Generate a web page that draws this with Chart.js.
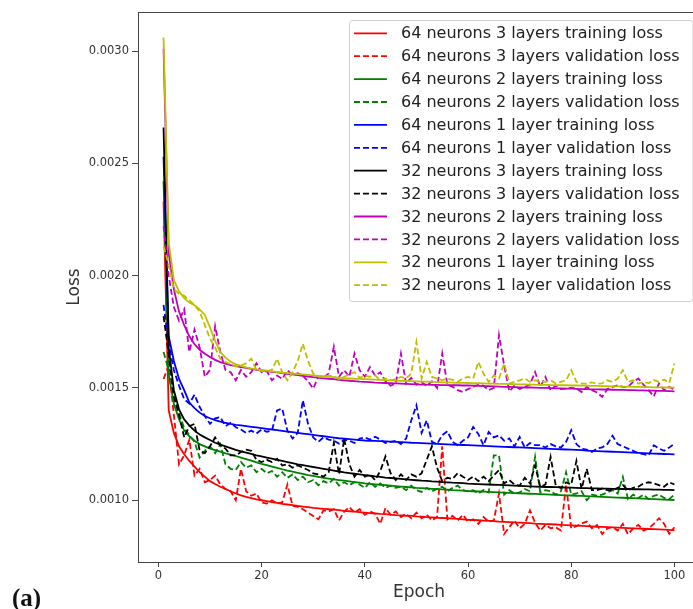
<!DOCTYPE html>
<html>
<head>
<meta charset="utf-8">
<title>Loss per epoch</title>
<script src="https://cdn.jsdelivr.net/npm/chart.js@4.4.1/dist/chart.umd.min.js"></script>
<style>
  html, body { margin: 0; padding: 0; background: #fff; overflow: hidden; }
  #wrap { position: relative; width: 705px; height: 609px; }
  #tag {
    position: absolute; left: 12px; top: 584px;
    font: bold 25px "Liberation Serif", "DejaVu Serif", serif; color: #111;
  }
</style>
</head>
<body>
<div id="wrap">
  <canvas id="lossChart" width="705" height="609"></canvas>
  <div id="tag">(a)</div>
</div>
<script>
// loss values are stored in units of 1e-5
var UNIT = 1e-5;
var EPOCHS = Array.from({ length: 100 }, function(_, i) { return i + 1; });
var X_TICKS = [0, 20, 40, 60, 80, 100];
var Y_TICKS = [0.0010, 0.0015, 0.0020, 0.0025, 0.0030];

// 64 neurons, 3 layers
var n64l3Train = [233,140,130,124,120.5,117.5,115,112.5,110.5,108.5,
  107.2,106,105,104,103,102.2,101.5,100.9,100.4,100,
  99.6,99.2,98.8,98.4,98.1,97.8,97.5,97.2,96.9,96.6,
  96.4,96.2,96,95.8,95.6,95.3,95.1,94.9,94.7,94.5,
  94.3,94.1,93.9,93.8,93.6,93.4,93.3,93.1,93,92.8,
  92.7,92.5,92.4,92.2,92.1,92,91.8,91.7,91.5,91.3,
  91.2,91.1,90.9,90.8,90.7,90.5,90.4,90.3,90.1,90,
  89.9,89.8,89.6,89.5,89.4,89.3,89.2,89,88.9,88.8,
  88.7,88.6,88.5,88.4,88.2,88.1,88,87.9,87.8,87.7,
  87.6,87.5,87.4,87.3,87.2,87.1,87,86.9,86.8,86.6];
var n64l3Val = [154,160,138,116,120,127,111,114,108,109,
  111,107,105,104,100,114,104,102,103,99,
  98.5,100,98.5,99,107,97.5,97,96,94.5,93,
  91.5,95.5,95,96,91,95,97,94.5,96,93.5,
  95,94,89.5,96.5,93.5,95,92.5,94,92,94.5,
  92,93.5,91,92.5,124,91.5,93,91,93.5,90.5,
  91.5,89.5,92.5,90.5,91,103,85,88,91,87.5,
  89.5,95.5,90,86.5,89,87.5,88,86.5,107,87.5,
  88.5,89.6,90.5,87.5,89,85,87.5,88,86.5,89.5,
  84.8,87.5,89,86.5,87.5,89.5,92,89.5,85,88];

// 64 neurons, 2 layers
var n64l2Train = [242,156,143,136,131,128.5,126.5,125,124,123,
  122.3,121.6,120.9,120.3,119.7,119,118.3,117.6,116.9,116.2,
  115.6,115,114.4,113.8,113.2,112.7,112.2,111.7,111.2,110.8,
  110.4,110,109.6,109.3,109,108.7,108.4,108.1,107.8,107.5,
  107.3,107.1,106.9,106.7,106.5,106.3,106.1,105.9,105.7,105.5,
  105.4,105.3,105.1,105,104.8,104.7,104.5,104.4,104.3,104.1,
  104,103.9,103.8,103.7,103.6,103.5,103.4,103.3,103.2,103.1,
  103,102.9,102.8,102.7,102.6,102.5,102.4,102.3,102.2,102.1,
  102,101.9,101.8,101.7,101.6,101.5,101.4,101.3,101.2,101.1,
  101,100.9,100.8,100.7,100.6,100.5,100.4,100.3,100.2,100.1];
var n64l2Val = [166,158,147,139,132,129,126,119,122,124,
  121,125,116,114,113.5,117,114.5,115.5,112.5,114,
  112,113,110.5,112.5,110,111.5,109,110.5,108,109,
  106.7,108.5,107.5,109.5,106.5,108,106.7,108,107,105.5,
  108,106,107.5,105.5,106.5,105.5,106,104.5,106.5,104.5,
  103.7,105.5,104,105,106,104,105.5,106.5,104.5,104,
  104.5,103,104.5,103.5,120,120,102.5,104.5,103,103.5,
  105,104,119.3,103.5,104.5,104,102.5,104,112.5,102.5,
  103,104,100,102.5,102,102.5,103.5,104.5,103,110.4,
  100.5,102.5,101,102.5,100.5,102,102.5,101,100.5,102.5];

// 64 neurons, 1 layer
var n64l1Train = [253,173,162,154,149,143.5,141,139,137.5,136.5,
  135.7,135,134.5,134,133.6,133.3,133,132.7,132.4,132.1,
  131.8,131.5,131.2,130.9,130.6,130.3,130,129.7,129.4,129.1,
  128.8,128.5,128.2,127.9,127.6,127.4,127.2,127,126.8,126.6,
  126.5,126.4,126.3,126.2,126.1,126,125.9,125.8,125.6,125.5,
  125.4,125.3,125.2,125.1,125,124.9,124.8,124.7,124.6,124.5,
  124.4,124.3,124.2,124.1,124,123.9,123.8,123.7,123.6,123.5,
  123.4,123.3,123.2,123.1,123,122.9,122.8,122.7,122.6,122.5,
  122.4,122.3,122.1,122,121.9,121.8,121.7,121.6,121.5,121.4,
  121.3,121.2,121.1,121,120.9,120.8,120.7,120.6,120.5,120.4];
var n64l1Val = [187,170,158,151,145,143,147,141.5,137.5,134,
  136.5,137,133,134.5,132.5,131.5,130,131,129.7,131.5,
  130.5,131,140,140.8,131,127.5,130,144.5,134,128,
  126,128,127,126.5,125.2,127,126.5,125.5,127.5,128,
  127,128.3,127,125.5,126,126.5,125,127.5,135.5,142.3,
  130,135.6,126,125,129,130.7,126,124.5,126.5,128,
  132.6,129.5,124.5,130.4,128,128.9,126.5,127.5,124,128.2,
  123.5,125.5,124.5,124.5,123.5,125,124,123.5,126,131.2,
  125,123,122.5,121.5,123,123.5,125,128.7,125,124,
  123,122,121,120.5,120,124.5,123,122,123.5,125.2];

// 32 neurons, 3 layers
var n32l3Train = [266,168,149,140.5,136,133.2,131,129.3,128,126.8,
  125.6,124.8,124,123.2,122.4,121.8,121.2,120.6,120,119.5,
  119,118.5,118,117.5,117,116.5,116,115.6,115.2,114.8,
  114.4,114,113.6,113.2,112.8,112.4,112.1,111.8,111.5,111.2,
  110.9,110.6,110.4,110.1,109.9,109.7,109.5,109.3,109.1,108.9,
  108.7,108.6,108.4,108.3,108.1,108,107.8,107.7,107.6,107.4,
  107.3,107.2,107.1,107,106.9,106.8,106.7,106.6,106.5,106.4,
  106.3,106.2,106.1,106,105.9,105.9,105.8,105.7,105.6,105.6,
  105.5,105.4,105.4,105.3,105.3,105.2,105.2,105.1,105.1,105,
  105,104.9,104.9,104.8,104.8,104.7,104.7,104.6,104.6,104.5];
var n32l3Val = [182,165,146,138,128,133,134,122,121,124,
  128,124.5,123,120,120,121.5,122.5,122,118,117,
  118,117,118.5,115.5,116,114.5,115.5,114.5,113.5,112,
  111.5,110.5,112.5,125.5,111.5,127.5,116,110.5,113.5,110.5,
  111.5,109,113,119.5,112,109,111.5,109,111.5,110.5,
  112,118,124,114.5,108.5,110,109.5,112,110.5,109,
  110.5,108.5,110.5,108.5,111,113.4,107.5,109,107,106.5,
  110,107.5,115.5,106,107,119.3,106.5,105.5,108,107,
  117.5,105,114,104.5,104.5,105.2,104.5,104.5,105.5,106.7,
  104.5,105.5,106,107.5,108,107.5,106.7,106,108,107];

// 32 neurons, 2 layers
var n32l2Train = [301,210,194,184,178,173,169.5,167,165.2,163.8,
  162.5,161.5,160.8,160.2,159.7,159.3,158.9,158.5,158.1,157.8,
  157.5,157.2,156.9,156.6,156.3,156,155.7,155.4,155.1,154.8,
  154.6,154.3,154.1,153.9,153.6,153.4,153.2,153,152.8,152.7,
  152.6,152.4,152.3,152.2,152.1,152,151.9,151.8,151.7,151.6,
  151.5,151.5,151.4,151.4,151.3,151.3,151.2,151.2,151.1,151.1,
  151,150.9,150.8,150.8,150.7,150.6,150.5,150.5,150.4,150.3,
  150.2,150.2,150.1,150,150,149.9,149.8,149.8,149.7,149.7,
  149.6,149.5,149.5,149.4,149.4,149.3,149.3,149.2,149.1,149.1,
  149,149,148.9,148.9,148.8,148.8,148.7,148.7,148.6,148.5];
var n32l2Val = [222,200,186,180,185,166,176,168,155,158,
  177.5,166,158,157,153.4,158,155,157,161,157,
  157.5,153.4,155.5,154,157.9,155.5,156.5,155.5,153,149.7,
  155,154.5,156.5,168.3,155,157.9,155,165.3,157.9,155,
  159.3,155.5,157,153,151,152,165.3,152,154.5,151.5,
  152.5,151,153,150,165.3,151.5,150.5,149,148.2,149.5,
  150.5,151.5,151,149,150,173.5,160,148.5,151,149.5,
  150.5,151.5,157.1,150.5,154.9,149,151,149.5,149.7,150,
  149.7,148.2,150.5,149,148,146,149.5,150.5,151.2,150.5,
  150.5,152.7,154.2,151.5,149,146.2,152,149,150.5,149];

// 32 neurons, 1 layer
var n32l1Train = [306,215,198,193,190,188,186.8,185,182.5,177,
  171,166,163.5,161.7,160.5,159.8,159.2,158.7,158.3,158,
  157.7,157.4,157.1,156.8,156.6,156.4,156.2,156,155.8,155.6,
  155.4,155.2,155,154.8,154.6,154.4,154.3,154.1,154,153.9,
  153.8,153.7,153.6,153.5,153.4,153.3,153.2,153.1,153,152.9,
  152.8,152.8,152.7,152.6,152.5,152.5,152.4,152.3,152.3,152.2,
  152.1,152.1,152,151.9,151.9,151.8,151.8,151.7,151.7,151.6,
  151.6,151.5,151.5,151.4,151.4,151.3,151.3,151.2,151.2,151.1,
  151.1,151,151,150.9,150.9,150.8,150.8,150.7,150.7,150.6,
  150.6,150.5,150.5,150.4,150.4,150.3,150.3,150.2,150.2,150.1];
var n32l1Val = [213,205,194,192,191,189,187,184,178,172,
  168,163,161.6,160.5,159.5,160,161,163,158,157.5,
  157.5,158,163,157,153.4,157,162,169.7,162,156.4,
  155,154.9,155.5,155,154,155,156,157.1,154.5,155.5,
  155,155.6,153.4,154.2,153.4,154,154.9,154.2,156.4,170.5,
  154.2,161.6,154.9,154.2,153.4,154.2,153.6,152.7,154.2,154.9,
  154.2,161.6,156.4,152.7,155.6,154.2,160.9,152,152.7,153.4,
  154.2,152.7,153.4,152.7,152.7,153.4,152,152.7,153.4,157.9,
  152.7,151.9,151.9,152.5,151.9,152,153.4,152.7,154.2,157.9,
  152.7,153.4,151.9,152.7,152.2,153.5,152.7,153.8,152.2,160.9];

var SERIES = [
  { label: '64 neurons 3 layers training loss',   values: n64l3Train, color: '#ff0000', dashed: false },
  { label: '64 neurons 3 layers validation loss', values: n64l3Val,   color: '#ff0000', dashed: true },
  { label: '64 neurons 2 layers training loss',   values: n64l2Train, color: '#008000', dashed: false },
  { label: '64 neurons 2 layers validation loss', values: n64l2Val,   color: '#008000', dashed: true },
  { label: '64 neurons 1 layer training loss',    values: n64l1Train, color: '#0000ff', dashed: false },
  { label: '64 neurons 1 layer validation loss',  values: n64l1Val,   color: '#0000ff', dashed: true },
  { label: '32 neurons 3 layers training loss',   values: n32l3Train, color: '#000000', dashed: false },
  { label: '32 neurons 3 layers validation loss', values: n32l3Val,   color: '#000000', dashed: true },
  { label: '32 neurons 2 layers training loss',   values: n32l2Train, color: '#bf00bf', dashed: false },
  { label: '32 neurons 2 layers validation loss', values: n32l2Val,   color: '#bf00bf', dashed: true },
  { label: '32 neurons 1 layer training loss',    values: n32l1Train, color: '#bfbf00', dashed: false },
  { label: '32 neurons 1 layer validation loss',  values: n32l1Val,   color: '#bfbf00', dashed: true }
];

var DASH = [6, 3];
var AXIS_COLOR = '#444';
var TEXT_COLOR = '#333';

// box around the plot (top/right edges are not drawn by the axes)
var frame = {
  id: 'frame',
  beforeDatasetsDraw: function(chart) {
    var a = chart.chartArea, ctx = chart.ctx;
    ctx.save();
    ctx.strokeStyle = AXIS_COLOR;
    ctx.lineWidth = 1;
    ctx.strokeRect(a.left + 0.5, a.top + 0.5, a.right - a.left, a.bottom - a.top);
    ctx.restore();
  }
};

// legend drawn inside the plot, upper right
var insideLegend = {
  id: 'insideLegend',
  afterDatasetsDraw: function(chart) {
    var ctx = chart.ctx, a = chart.chartArea;
    var fs = 16, rowH = 22.9, pad = 6.4, handle = 33, gap = 14;
    var sets = chart.data.datasets;
    ctx.save();
    ctx.font = fs + 'px "DejaVu Sans"';
    var maxW = 0;
    sets.forEach(function(ds) { maxW = Math.max(maxW, ctx.measureText(ds.label).width); });
    var w = pad + 5 + handle + gap + maxW + pad;
    var h = 13.3 + rowH * (sets.length - 1) + 15.8;
    var x0 = a.right - 7.5 - w, y0 = a.top + 8;

    ctx.beginPath();
    ctx.roundRect(x0 + 0.5, y0 + 0.5, w, h, 3);
    ctx.fillStyle = 'rgba(255,255,255,0.85)';
    ctx.fill();
    ctx.strokeStyle = '#d0d0d0';
    ctx.lineWidth = 1;
    ctx.stroke();

    ctx.textBaseline = 'middle';
    ctx.textAlign = 'left';
    sets.forEach(function(ds, i) {
      var cy = y0 + 13.3 + i * rowH;
      ctx.beginPath();
      ctx.setLineDash(ds.borderDash || []);
      ctx.strokeStyle = ds.borderColor;
      ctx.lineWidth = ds.borderWidth;
      ctx.moveTo(x0 + 5, cy);
      ctx.lineTo(x0 + 5 + handle, cy);
      ctx.stroke();
      ctx.setLineDash([]);
      ctx.fillStyle = '#222';
      ctx.fillText(ds.label, x0 + 5 + handle + gap, cy + 1);
    });
    ctx.restore();
  }
};

var datasets = SERIES.map(function(s, i) {
  return {
    label: s.label,
    data: s.values.map(function(v) { return v * UNIT; }),
    borderColor: s.color,
    backgroundColor: s.color,
    borderWidth: 1.8,
    borderDash: s.dashed ? DASH : [],
    pointRadius: 0,
    tension: 0,
    fill: false,
    order: SERIES.length - 1 - i   // later series drawn on top
  };
});

new Chart(document.getElementById('lossChart'), {
  type: 'line',
  data: { labels: EPOCHS, datasets: datasets },
  plugins: [frame, insideLegend],
  options: {
    responsive: false,
    animation: false,
    events: [],
    layout: { padding: { top: 12, right: 5, left: 0, bottom: 0 } },
    plugins: { legend: { display: false }, tooltip: { enabled: false } },
    scales: {
      x: {
        type: 'linear',
        min: -3.95,
        max: 104.95,
        afterBuildTicks: function(s) { s.ticks = X_TICKS.map(function(v) { return { value: v }; }); },
        afterFit: function(s) { s.height = 47; },
        grid: { drawOnChartArea: false, drawTicks: true, tickLength: 5, color: AXIS_COLOR },
        border: { color: AXIS_COLOR, width: 1 },
        ticks: { padding: 2, maxRotation: 0, color: TEXT_COLOR, font: { family: 'DejaVu Sans', size: 11.5 } },
        title: { display: true, text: 'Epoch', color: TEXT_COLOR, font: { family: 'DejaVu Sans', size: 17 }, padding: { bottom: 6 } }
      },
      y: {
        type: 'linear',
        min: 0.000725,
        max: 0.003174,
        afterBuildTicks: function(s) { s.ticks = Y_TICKS.map(function(v) { return { value: v }; }); },
        afterFit: function(s) { s.width = 138; },
        grid: { drawOnChartArea: false, drawTicks: true, tickLength: 6, color: AXIS_COLOR },
        border: { color: AXIS_COLOR, width: 1 },
        ticks: {
          padding: 3, color: TEXT_COLOR, font: { family: 'DejaVu Sans', size: 11.5 },
          callback: function(v) { return v.toFixed(4); }
        },
        title: { display: true, text: 'Loss', color: TEXT_COLOR, font: { family: 'DejaVu Sans', size: 17 }, padding: { top: 64 } }
      }
    }
  }
});
</script>
</body>
</html>
